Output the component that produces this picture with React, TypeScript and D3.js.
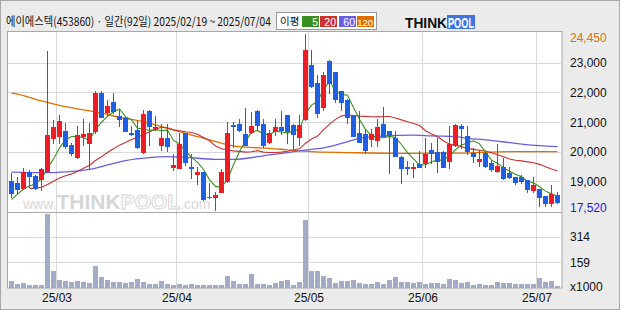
import React from 'react';
import * as d3 from 'd3';

const title = '에이에스텍(453860) · 일간(92일) 2025/02/19 ~ 2025/07/04';
const monthLabels = ['25/03', '25/04', '25/05', '25/06', '25/07'];
const monthStartIdx = [8, 28, 50, 69, 88];
const priceTicks = [19000, 20000, 21000, 22000, 23000];
const volTicks = [159, 314];
const maxLabel = '24,450';
const minLabel = '17,520';

const opens = [19010,18930,18760,19320,19180,19080,19350,20450,20540,20700,
20230,19830,20540,20280,20680,21990,21350,21660,21210,21130,
20640,20730,20000,21380,20760,20230,20470,19490,19460,20620,
19490,19240,19300,18460,18460,18650,19010,20900,20940,20600,
20670,21380,20940,20340,20710,20820,21240,20900,20510,21100,
22930,22310,21490,23070,22670,22050,21750,21240,20640,20600,
20430,20400,20940,20700,20470,19830,19490,19440,19580,19630,
20060,20000,20000,19700,20230,20850,20530,19970,19700,19970,
19630,19360,19490,19270,19150,19150,19040,18700,18730,18500,
18260,18540];
const highs = [19270,19150,19440,19380,19210,19440,23400,21070,21240,20960,
20290,20870,21100,20970,22050,22030,21750,21990,21410,21180,
20850,21070,21410,21400,21210,20940,20940,19920,20620,20630,
19920,19470,19310,18950,18650,19400,21010,21010,21100,21470,
21350,21390,21100,20730,21100,21380,21250,20940,21240,23980,
23440,22590,22670,23100,22680,22060,21760,21250,21380,20760,
20760,21100,21490,20710,20700,19840,19690,19630,20020,20450,
20280,20450,20010,20850,20930,20930,20850,20110,20060,20000,
19720,20250,19780,19490,19160,19210,19050,19150,18740,18510,
18870,18650];
const lows = [18480,18600,18730,18820,18740,18700,19320,20280,20280,20110,
19890,19780,20230,19440,20620,21160,21240,21300,20850,20680,
20560,20110,19950,20230,20730,20060,20030,19380,19440,19550,
19100,18910,18370,18420,18030,18630,18990,20150,20680,20220,
20620,20730,20150,20280,20560,20600,20280,20110,20230,21070,
22180,21180,21390,21990,21690,21390,20980,20530,20330,19970,
20200,20200,20520,19290,19850,18930,19250,19150,19480,19490,
19630,19320,19480,19460,20190,20110,19920,19660,19520,19470,
19360,19320,19070,19100,18910,18950,18630,18650,18160,18160,
18160,18280];
const closes = [18590,18730,19300,19190,18780,19400,20560,20820,21040,20190,
19950,20560,20590,20640,21990,21180,21540,21380,21100,20710,
20600,20150,21270,20850,20820,20470,20200,19550,20260,19640,
19440,19300,18390,18480,18530,19300,20620,20850,20730,20230,
20870,20900,20230,20640,20820,20730,20710,20600,20900,23440,
22200,21320,22590,22310,21780,21660,21160,20540,20340,20060,
20600,20820,20530,20560,19860,19440,19440,19490,19490,19920,
19970,19700,19490,20260,20900,20790,20030,19860,19740,19520,
19420,19520,19100,19140,18990,19020,18730,18870,18460,18260,
18560,18310];
const volumes = [43,24,31,18,18,18,453,104,49,41,
35,41,38,31,135,67,49,37,37,31,
37,55,37,24,24,43,24,20,24,18,
22,18,18,18,18,18,73,43,24,24,
86,24,24,16,31,43,49,18,37,416,
104,104,73,63,29,43,41,49,31,24,
24,35,24,47,67,38,38,29,37,24,
29,29,24,55,49,31,37,20,24,18,
18,37,29,31,24,24,24,24,63,38,
45,14];

const ma5Lead = [18380, 18570, 18740, 18840];
const ma20LeadStart = 3;
const ma20Lead = [18760,18770,18800,18890,19000,19110,19190,19250,19340,19440,19540,19700,19830,19970,20100,20220];
const ma60Idx = [0,5,9,13,16,19,23,26,29,34,37,43,46,50,52,55,58,62,67,70,74,76,79,84,88,91];
const ma60Val = [19310,19290,19320,19400,19550,19700,19800,19830,19810,19740,19740,19890,19970,20080,20130,20280,20450,20530,20560,20530,20510,20450,20400,20280,20200,20170];
const ma120Idx = [0,2,5,8,12,15,18,22,24,27,30,33,36,39,43,46,50,56,65,75,83,91];
const ma120Val = [21980,21890,21710,21560,21410,21300,21160,21010,20900,20730,20560,20400,20230,20150,20110,20060,20000,19970,19940,19950,20000,20000];

const legendLabels = ['5', '20', '60', '120'];

const UP = '#ee1c24';
const DOWN = '#1f5fe3';
const C5 = '#3a8f1e';
const C20 = '#c83232';
const C60 = '#6a5ee0';
const C120 = '#e07000';
const GRID = '#d9d9d9';
const NUMFONT = '"Liberation Sans", Arial, sans-serif';
const KFONT = '"Noto Sans CJK KR", "Noto Sans", sans-serif';

export default function App() {
  const titleRef = React.useRef<SVGTextElement>(null);
  const [titleScale, setTitleScale] = React.useState(0.8);
  React.useLayoutEffect(() => {
    const el = titleRef.current;
    if (el) {
      const w = el.getComputedTextLength();
      if (w > 0) setTitleScale(265 / w);
    }
  }, []);

  const n = closes.length;
  const L = 8, R = 562, PT = 31, PB = 212, VB = 288;
  const x = d3.scaleBand<number>().domain(d3.range(n)).range([L, L + 6 * n]).padding(0);
  const cx = (i: number) => (x(i) as number) + 3;
  const y = d3.scaleLinear().domain([19000, 23000]).range([181.3, 62.7]);
  const yv = d3.scaleLinear().domain([0, 314]).range([VB, 236.7]);
  const snap = (v: number) => Math.round(v) + 0.5;

  const ma5: [number, number][] = closes.map((_, i) =>
    [i, i < 4 ? ma5Lead[i] : d3.mean(closes.slice(i - 4, i + 1)) as number]);
  const ma20: [number, number][] = [];
  for (let i = ma20LeadStart; i < n; i++) {
    ma20.push([i, i < 19 ? ma20Lead[i - ma20LeadStart] : d3.mean(closes.slice(i - 19, i + 1)) as number]);
  }
  const ma60: [number, number][] = ma60Idx.map((k, j) => [k, ma60Val[j]]);
  const ma120: [number, number][] = ma120Idx.map((k, j) => [k, ma120Val[j]]);

  const lineLin = d3.line<[number, number]>().x(d => cx(d[0]) + 0.5).y(d => y(d[1]));
  const lineSmooth = d3.line<[number, number]>().x(d => cx(d[0]) + 0.5).y(d => y(d[1])).curve(d3.curveMonotoneX);

  const legendCols = [C5, C20, C60, C120];
  const legendX = [302, 320, 339, 357];

  return (
    <svg width={620} height={310} style={{ position: 'absolute', left: 0, top: 0, display: 'block' }}>
      <rect x={0.5} y={0.5} width={619} height={309} fill="#ebebeb" stroke="#a8a8a8" />
      {/* header */}
      <g transform={`translate(6,25.5) scale(${titleScale},1)`}>
        <text ref={titleRef} x={0} y={0} fontFamily={KFONT} fontSize={12} fill="#111">{title}</text>
      </g>
      <rect x={276.5} y={12.5} width={100} height={17} fill="#fff" stroke="#999" />
      <text x={280} y={25} fontFamily={KFONT} fontSize={10.5} fill="#111">이평</text>
      {legendLabels.map((t, j) => (
        <g key={t}>
          <rect x={legendX[j]} y={16} width={17} height={11} fill={legendCols[j]} />
          <text x={legendX[j] + 16} y={25.5} textAnchor="end" fontFamily={NUMFONT} fontSize={t.length > 2 ? 9.5 : 10.5} fill="#fff">{t}</text>
        </g>
      ))}
      <text x={405} y={28} fontFamily={NUMFONT} fontWeight="bold" fontSize={14} fill="#111" textLength={42} lengthAdjust="spacingAndGlyphs">THINK</text>
      <rect x={447} y={15} width={28} height={14} fill="#3f74e6" />
      <text x={448} y={28} fontFamily={NUMFONT} fontWeight="bold" fontSize={14} fill="#fff" textLength={26} lengthAdjust="spacingAndGlyphs">POOL</text>

      {/* plot */}
      <rect x={7.5} y={31.5} width={R - 7.5} height={VB - 31.5} fill="#fff" stroke="#a8a8a8" />
      {priceTicks.map(t => (
        <line key={t} x1={8} x2={R} y1={snap(y(t))} y2={snap(y(t))} stroke={GRID} />
      ))}
      {volTicks.map(t => (
        <line key={t} x1={8} x2={R} y1={snap(yv(t))} y2={snap(yv(t))} stroke={GRID} />
      ))}
      {monthStartIdx.map(k => (
        <line key={k} x1={(x(k) as number) + 0.5} x2={(x(k) as number) + 0.5} y1={32} y2={VB} stroke={GRID} />
      ))}
      <line x1={8} x2={R} y1={PB + 0.5} y2={PB + 0.5} stroke="#a8a8a8" />

      {/* watermark */}
      <text x={23} y={209} fontFamily={NUMFONT} fill="#d6d6d6" fontSize={14}>
        www.<tspan fontWeight="bold" fontSize={21}>THINK</tspan><tspan fontWeight="bold" fontSize={21} fill="#fff" stroke="#d6d6d6" strokeWidth={1}>POOL</tspan>.com
      </text>

      {/* moving averages */}
      <path d={lineSmooth(ma120) || ''} fill="none" stroke={C120} strokeWidth={1.3} />
      <path d={lineSmooth(ma60) || ''} fill="none" stroke={C60} strokeWidth={1.3} />
      <path d={lineLin(ma20) || ''} fill="none" stroke={C20} strokeWidth={1.1} />
      <path d={lineLin(ma5) || ''} fill="none" stroke={C5} strokeWidth={1.1} />

      {/* candles */}
      {closes.map((c, i) => {
        const o = opens[i];
        const col = c >= o ? UP : DOWN;
        const top = Math.round(y(Math.max(o, c)));
        const bot = Math.round(y(Math.min(o, c)));
        const hy = Math.round(y(highs[i]));
        const ly = Math.round(y(lows[i]));
        const px = x(i) as number;
        return (
          <g key={i}>
            <rect x={px + 3} y={Math.max(hy, PT + 1)} width={1} height={Math.max(1, ly - Math.max(hy, PT + 1) + 1)} fill={col} />
            <rect x={px + 1} y={top} width={5} height={Math.max(1, bot - top + 1)} fill={col} />
          </g>
        );
      })}

      {/* volume */}
      {volumes.map((v, i) => {
        const top = Math.round(yv(v));
        return <rect key={i} x={(x(i) as number) + 1} y={top} width={5} height={VB - top} fill="#a3abc6" />;
      })}

      {/* right axis */}
      <text x={570} y={42} fontFamily={NUMFONT} fontSize={12} fill="#e07000">{maxLabel}</text>
      {priceTicks.map(t => (
        <text key={t} x={570} y={y(t) + 4.5} fontFamily={NUMFONT} fontSize={12} fill="#111">{d3.format(',')(t)}</text>
      ))}
      <text x={570} y={211.5} fontFamily={NUMFONT} fontSize={12} fill="#1a1adf">{minLabel}</text>
      {volTicks.map(t => (
        <text key={t} x={570} y={yv(t) + 4.5} fontFamily={NUMFONT} fontSize={12} fill="#111">{t}</text>
      ))}
      <text x={570} y={291} fontFamily={NUMFONT} fontSize={12} fill="#111">x1000</text>

      {/* x axis */}
      {monthStartIdx.map((k, j) => (
        <text key={k} x={(x(k) as number) + 1} y={302} textAnchor="middle" fontFamily={NUMFONT} fontSize={12} fill="#111">{monthLabels[j]}</text>
      ))}
    </svg>
  );
}
